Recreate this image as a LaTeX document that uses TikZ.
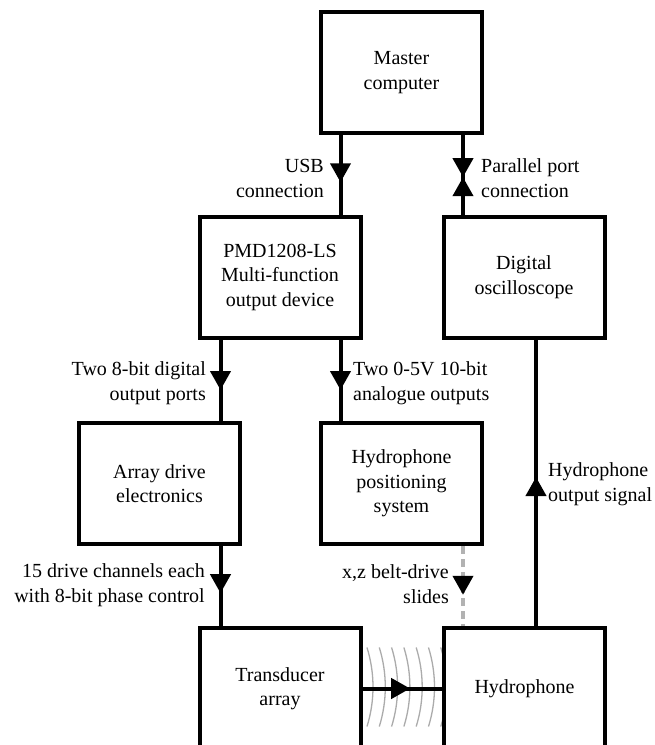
\documentclass[tikz,border=0pt]{standalone}
\usepackage{fontspec}
\setmainfont{Liberation Serif}
\usetikzlibrary{arrows.meta,decorations.markings}
\newcommand\dfont{\fontsize{20pt}{24.5pt}\selectfont}
\tikzset{
  box/.style={draw, line width=4pt, fill=white, minimum width=161pt, minimum height=121pt, inner sep=0pt, align=center, font=\dfont},
  conn/.style={line width=4pt},
  lbl/.style={font=\dfont, inner sep=0pt},
  tipat/.style={postaction={decorate}, decoration={markings, mark=at position #1 with {\arrow[black]{Triangle[width=20pt,length=19pt]}}}},
  bowtie/.style={postaction={decorate}, decoration={markings, mark=at position #1 with {\arrow{Triangle[width=20pt,length=19pt]}\arrowreversed{Triangle[width=20pt,length=19pt]}}}},
  wave/.style={draw=black!33, line width=1.3pt},
}
\begin{document}
\begin{tikzpicture}[x=1pt,y=-1pt]
\useasboundingbox (0,0) rectangle (654,745);
\clip (0,0) rectangle (654,745);
% sound waves
\foreach \m in {373,385.3,397.6,409.9,422.2,434.5,446.8} {
  \draw[wave] ([shift={(\m-133,687)}]-17.3:133) arc[start angle=-17.3, end angle=17.3, radius=133];
}
% boxes
\node[box] (master) at (401.5,72.5) {Master\\computer};
\node[box] (pmd) at (280,277) {PMD1208-LS\\Multi-function\\output device};
\node[box] (osc) at (524,277) {Digital\\oscilloscope};
\node[box] (arr) at (159.5,483.5) {Array drive\\electronics};
\node[box] (hps) at (401.5,483.5) {Hydrophone\\positioning\\system};
\node[box] (trans) at (280,688.5) {Transducer\\array};
\node[box] (hyd) at (524.5,688.5) {Hydrophone};
% connector x positions
\coordinate (xa) at (220.5,0);
\coordinate (xb) at (340.5,0);
\coordinate (xc) at (463,0);
\coordinate (xd) at (536,0);
% connectors
\draw[conn,tipat=0.595] (master.south -| xb) -- (pmd.north -| xb);
\draw[conn,bowtie=0.53] (master.south -| xc) -- (osc.north -| xc);
\draw[conn,tipat=0.62] (pmd.south -| xa) -- (arr.north -| xa);
\draw[conn,tipat=0.62] (pmd.south -| xb) -- (hps.north -| xb);
\draw[conn,tipat=0.59] (arr.south -| xa) -- (trans.north -| xa);
\draw[conn,draw=black!30,dash pattern=on 8pt off 5pt,tipat=0.61] (hps.south -| xc) -- (hyd.north -| xc);
\draw[conn,tipat=0.52] (hyd.north -| xd) -- (osc.south -| xd);
\draw[conn,tipat=0.6] (trans.east) -- (hyd.west);
% labels (base anchor = baseline of the last line)
\node[lbl, anchor=base east, align=right] (lusb) at (324,197) {USB\\connection};
\node[lbl, anchor=base west, align=left] (lpar) at (481,197) {Parallel port\\connection};
\node[lbl, anchor=base east, align=right] (ldig) at (206,400) {Two 8-bit digital\\output ports};
\node[lbl, anchor=base west, align=left] (lana) at (353,400) {Two 0-5V 10-bit\\analogue outputs};
\node[lbl, anchor=base east, align=right] (ldrv) at (205,602) {15 drive channels each\\with 8-bit phase control};
\node[lbl, anchor=base east, align=right] (lxz) at (449,603) {x,z belt-drive\\slides};
\node[lbl, anchor=base west, align=left] (lhyd) at (548,501) {Hydrophone\\output signal};
\end{tikzpicture}
\end{document}
